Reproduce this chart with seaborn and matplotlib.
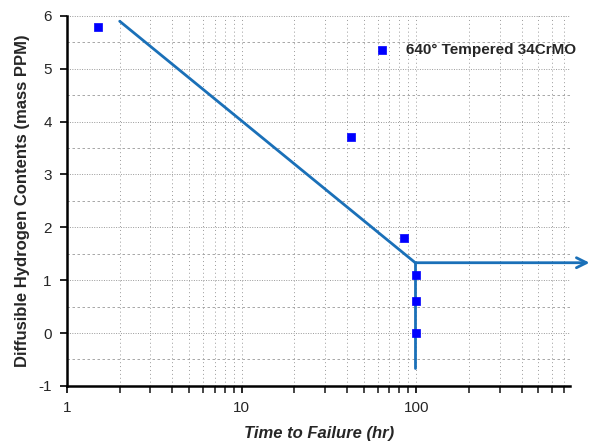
from matplotlib import pyplot as plt
from matplotlib.ticker import LogLocator, MultipleLocator, FixedLocator, NullFormatter
import pandas as pd
import seaborn as sns

# measured points
time_hr = [1.5, 42, 85, 100, 100, 100]
h_ppm = [5.8, 3.7, 1.8, 1.1, 0.6, 0.0]

# trend line (sloped part + vertical drop)
trend_t = [2.0, 98.5]
trend_h = [5.9, 1.33]
drop_t = [98.5, 98.5]
drop_h = [1.33, -0.67]
# horizontal arrow (threshold)
arrow_t = [98.5, 980]
arrow_h = [1.33, 1.33]

legend_label = "640\u00b0 Tempered 34CrMO"

sns.set_style("white")
plt.rcParams['font.family'] = ['Liberation Sans', 'DejaVu Sans']
plt.rcParams['axes.unicode_minus'] = False

fig, ax = plt.subplots(figsize=(5.94, 4.43), dpi=100)
fig.subplots_adjust(left=0.113, right=0.96, bottom=0.129, top=0.964)

line_col = '#1a70b8'
df = pd.DataFrame({'t': time_hr, 'h': h_ppm})
sns.scatterplot(data=df, x='t', y='h', ax=ax, marker='s', s=30, color='#0000ff',
                edgecolor='#0000ff', linewidth=0.5, label=legend_label, zorder=4)
sns.lineplot(x=trend_t, y=trend_h, ax=ax, color=line_col, linewidth=2, sort=False,
             estimator=None, zorder=3)
sns.lineplot(x=drop_t, y=drop_h, ax=ax, color=line_col, linewidth=2, sort=False,
             estimator=None, zorder=3)
ax.annotate('', xy=(arrow_t[1], arrow_h[1]), xytext=(arrow_t[0], arrow_h[0]),
            xycoords='data', annotation_clip=False,
            arrowprops=dict(arrowstyle='->', color=line_col, lw=2, mutation_scale=18,
                            shrinkA=0, shrinkB=0))

ax.set_xscale('log')
ax.set_xlim(1, 760)
ax.set_ylim(-1, 6)
ax.xaxis.set_major_locator(FixedLocator([1, 10, 100]))
ax.xaxis.set_minor_locator(LogLocator(base=10, subs=range(2, 10)))
ax.xaxis.set_minor_formatter(NullFormatter())
ax.set_xticklabels(['1', '10', '100'])
ax.yaxis.set_major_locator(MultipleLocator(1))
ax.yaxis.set_minor_locator(MultipleLocator(0.5))

ax.grid(which='major', axis='y', color='#999999', linestyle=(0, (1, 1.5)), linewidth=0.7)
ax.grid(which='minor', axis='y', color='#999999', linestyle=(0, (3, 3)), linewidth=0.6)
ax.grid(which='both', axis='x', color='#999999', linestyle=(0, (1, 3)), linewidth=0.7)

for s in ['top', 'right']:
    ax.spines[s].set_visible(False)
for s in ['left', 'bottom']:
    ax.spines[s].set_color('black')
    ax.spines[s].set_linewidth(1.8)

ax.tick_params(axis='both', which='major', direction='out', length=5, width=1.2,
               labelsize=11, color='black', bottom=True, left=True, pad=6)
ax.tick_params(axis='x', which='minor', direction='out', length=5, width=1.2, bottom=True)
ax.tick_params(axis='y', which='minor', length=0)

ax.set_xlabel('Time to Failure (hr)', fontsize=12, fontweight='bold', style='italic', labelpad=8)
ax.set_ylabel('Diffusible Hydrogen Contents (mass PPM)', fontsize=12, fontweight='bold', labelpad=6)

leg = ax.legend(loc='upper right', bbox_to_anchor=(1.04, 0.963), frameon=False,
                prop={'weight': 'bold', 'size': 11}, handletextpad=0.6, markerscale=1.0)

fig.savefig('out.png', dpi=100)
